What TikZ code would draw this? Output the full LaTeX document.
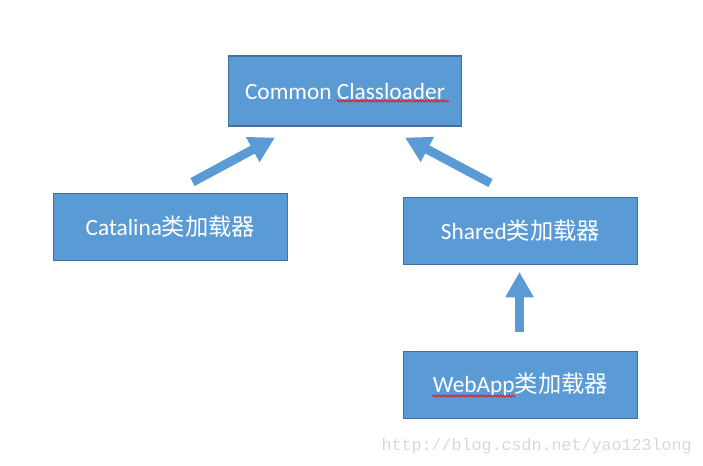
\documentclass[tikz,border=0pt]{standalone}
\usepackage{fontspec}
\setmainfont{Carlito}
\newfontfamily\cjk{Noto Sans CJK SC}
\newfontfamily\wmfont{Liberation Mono}
\usetikzlibrary{arrows.meta, calc, positioning, decorations.pathmorphing}
\definecolor{BoxFill}{HTML}{5B9BD5}
\definecolor{BoxLine}{HTML}{41719C}
\definecolor{WGray}{HTML}{DCD8D0}

\begin{document}
\begin{tikzpicture}[x=0.75pt, y=-0.75pt,
  loaderbox/.style={draw=BoxLine, fill=BoxFill, line width=0.9pt, text=white,
    minimum width=175pt, minimum height=50pt, inner sep=0pt, font=\fontsize{17.5}{20}\selectfont},
  fat/.style={BoxFill, line width=6.75pt, -{Triangle[length=19pt, width=20pt]}},
  spell/.style={red, line width=0.5pt, decorate, decoration={zigzag, amplitude=0.8pt, segment length=2.2pt}}]
  \useasboundingbox (0,0) rectangle (703,466);
  % Boxes
  \node[loaderbox, minimum height=52.5pt] (common) at (345,91) {Common Classloader};
  \node[loaderbox] (catalina) at (170.5,227) {Catalina{\cjk 类加载器}};
  \node[loaderbox] (shared) at (520.5,231) {Shared{\cjk 类加载器}};
  \node[loaderbox] (webapp) at (520.5,385) {WebApp{\cjk 类加载器}};
  % Spell-check underlines
  \draw[spell] ($(common.center)+(-8,10)$) -- ($(common.center)+(104,10)$);
  \draw[spell] ($(webapp.center)+(-88,11)$) -- ($(webapp.center)+(-5,11)$);
  % Arrows
  \draw[fat] ($(catalina.north)+(22,-11)$) -- ($(common.south)+(-70,11)$);
  \draw[fat] ($(shared.north)+(-30,-14)$) -- ($(common.south)+(60,11)$);
  \draw[fat] ($(webapp.north)+(-1,-19)$) -- ($(shared.south)+(-1,7)$);
  % Watermark
  \node[anchor=east, text=WGray, font=\wmfont\fontsize{12.5}{14}\selectfont, inner sep=0pt] (mark) at (692,446) {http://blog.csdn.net/yao123long};
\end{tikzpicture}
\end{document}
